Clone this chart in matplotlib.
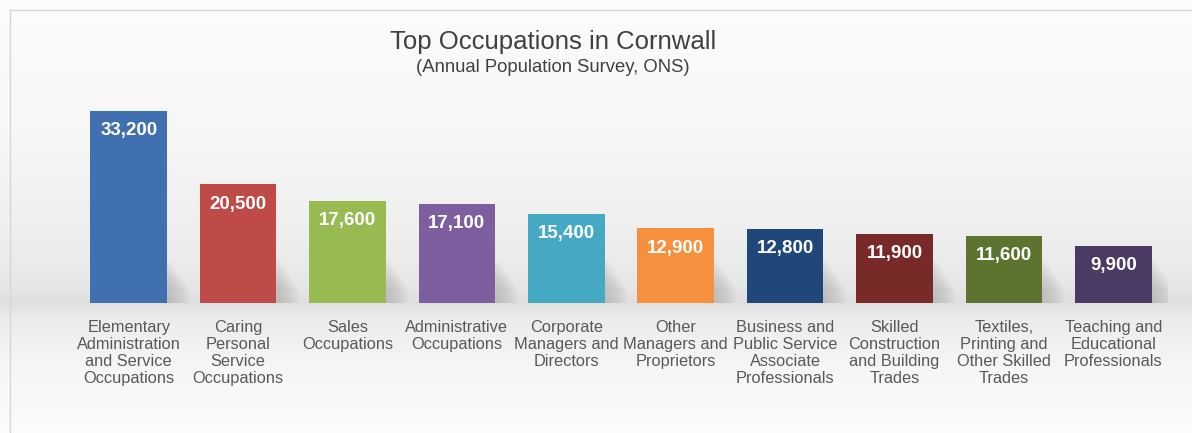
import numpy as np
import matplotlib.pyplot as plt
from matplotlib.patches import Rectangle
from matplotlib.colors import LinearSegmentedColormap

# Data
categories = [
    "Elementary\nAdministration\nand Service\nOccupations",
    "Caring\nPersonal\nService\nOccupations",
    "Sales\nOccupations",
    "Administrative\nOccupations",
    "Corporate\nManagers and\nDirectors",
    "Other\nManagers and\nProprietors",
    "Business and\nPublic Service\nAssociate\nProfessionals",
    "Skilled\nConstruction\nand Building\nTrades",
    "Textiles,\nPrinting and\nOther Skilled\nTrades",
    "Teaching and\nEducational\nProfessionals",
]
values = [33200, 20500, 17600, 17100, 15400, 12900, 12800, 11900, 11600, 9900]
bar_colors = ["#4170B0", "#BE4B48", "#98BA52", "#7D5FA0", "#46A9C4",
              "#F6903F", "#1F477A", "#772A27", "#5D7430", "#4B3A63"]

plt.rcParams['font.family'] = ['Liberation Sans', 'DejaVu Sans']

fig = plt.figure(figsize=(11.92, 4.33), dpi=100)
fig.patch.set_facecolor("white")

# soft grey band behind the bars
bg = fig.add_axes([0, 0, 1, 1], zorder=0)
bg_cmap = LinearSegmentedColormap.from_list(
    "bg", [(0.0, "#fbfbfb"), (0.15, "#f6f6f6"), (0.26, "#ececec"),
           (0.30, "#dfdfdf"), (0.34, "#e7e7e7"), (0.45, "#eeeeee"),
           (0.7, "#f7f7f7"), (1.0, "#fcfcfc")])
grad = np.linspace(0, 1, 433).reshape(-1, 1)
bg.imshow(grad, cmap=bg_cmap, aspect="auto", extent=[0, 1, 0, 1], origin="lower")
bg.plot([10 / 1192, 10 / 1192], [0, 1 - 10 / 433], color="#d6d6d6", lw=1)
bg.plot([10 / 1192, 1], [1 - 10 / 433, 1 - 10 / 433], color="#d6d6d6", lw=1)
bg.set_xlim(0, 1)
bg.set_ylim(0, 1)
bg.axis("off")

ax = fig.add_axes([74 / 1192, 130 / 433, 1094 / 1192, 192 / 433], zorder=1)
ax.patch.set_alpha(0)
x = np.arange(len(values))
width = 0.70

# blurred shadows to the right of each bar
for xi, v in zip(x, values):
    for k in range(14):
        h = min(v, 7500) * (1 - k * 0.05)
        ax.add_patch(Rectangle((xi - width / 2 + 0.03 + k * 0.014, 0), width, h,
                               color="#909090", alpha=0.03, lw=0, zorder=1))

ax.bar(x, values, width=width, color=bar_colors, edgecolor="none", zorder=2)
for xi, v in zip(x, values):
    ax.annotate(f"{v:,}", (xi, v), xytext=(0, -8), textcoords="offset points",
                ha="center", va="top", color="white", fontsize=13.5,
                fontweight="bold", zorder=3)

ax.set_xlim(-0.5, len(values) - 0.5)
ax.set_ylim(0, max(values))
ax.set_xticks(x)
ax.set_xticklabels(categories, fontsize=11.8, color="#595959", linespacing=1.18)
ax.tick_params(axis="x", length=0, pad=12)
ax.set_yticks([])
for s in ax.spines.values():
    s.set_visible(False)

fig.text(553 / 1192, 1 - 42 / 433, "Top Occupations in Cornwall", ha="center",
         va="center", fontsize=18.5, color="#404040")
fig.text(553 / 1192, 1 - 67 / 433, "(Annual Population Survey, ONS)", ha="center",
         va="center", fontsize=13.3, color="#404040")

fig.savefig("out.png", dpi=100)
